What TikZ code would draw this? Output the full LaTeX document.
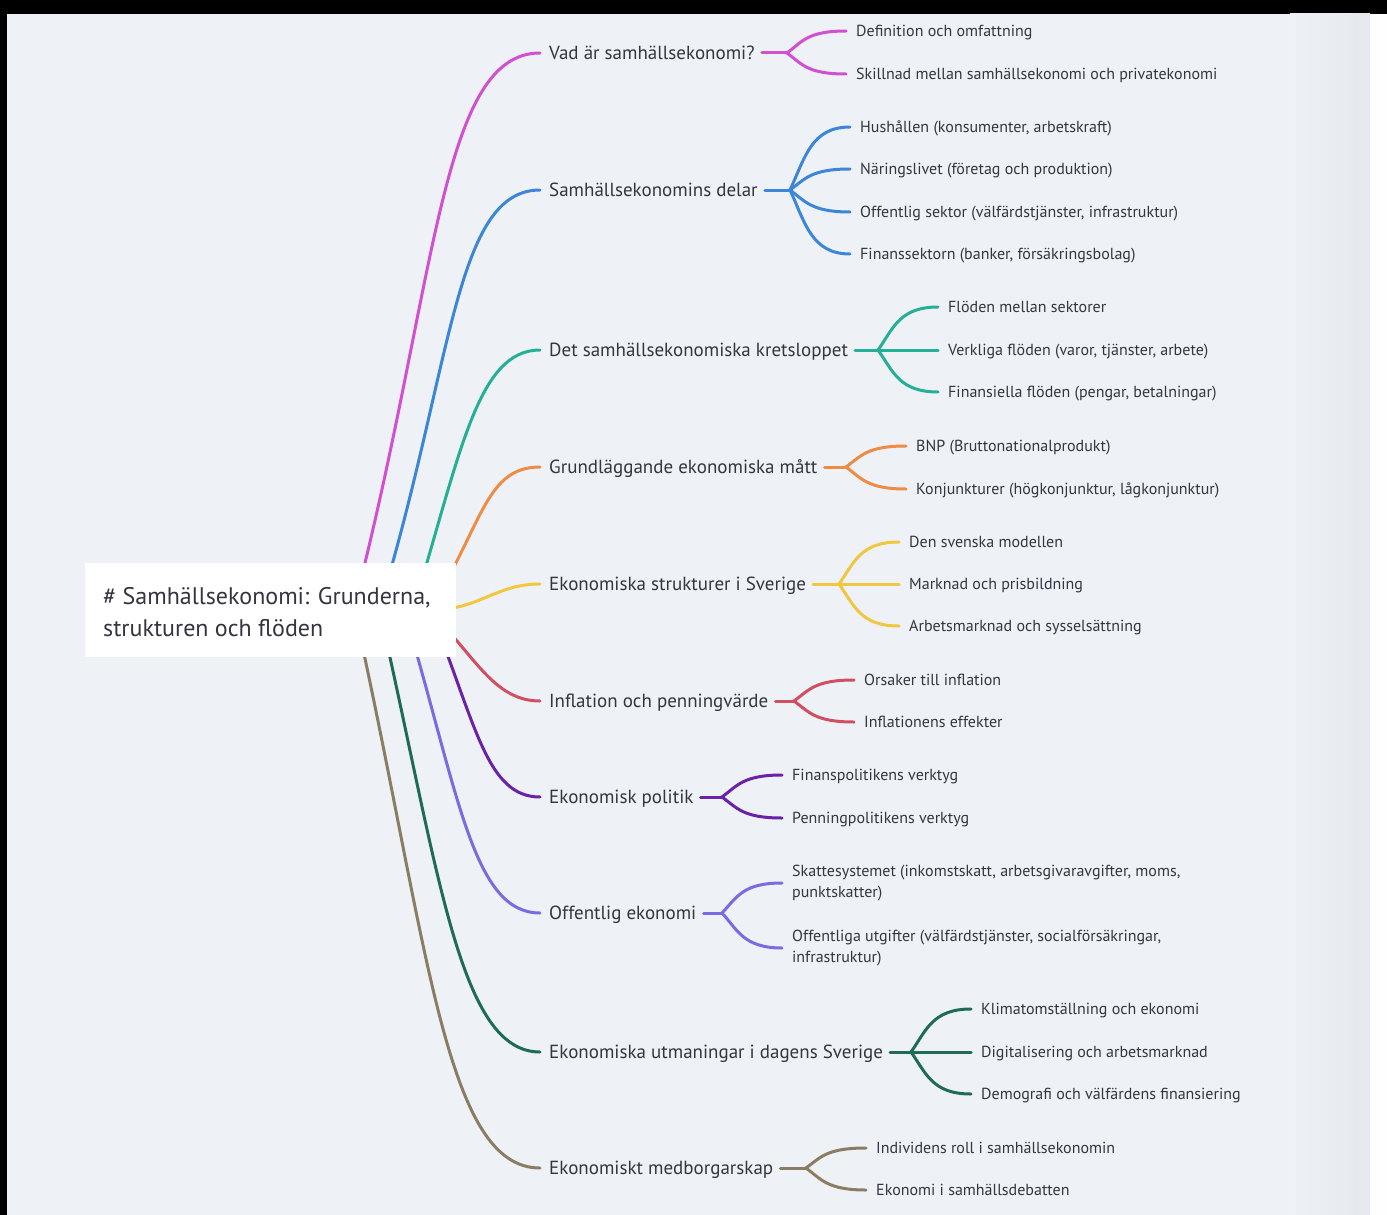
\documentclass[tikz,border=0pt]{standalone}
\usepackage{fontspec}
\setmainfont{PT Sans}
\usetikzlibrary{calc}
\definecolor{bg}{HTML}{EEF2F6}
\definecolor{txt}{HTML}{34353F}
\definecolor{cA}{HTML}{D24FD2}
\definecolor{cB}{HTML}{3C86D8}
\definecolor{cC}{HTML}{25B096}
\definecolor{cD}{HTML}{EE8B45}
\definecolor{cE}{HTML}{F2C63E}
\definecolor{cF}{HTML}{D04F60}
\definecolor{cG}{HTML}{6A22A8}
\definecolor{cH}{HTML}{7B6AE2}
\definecolor{cI}{HTML}{1F6B57}
\definecolor{cJ}{HTML}{8B7D64}
\tikzset{
  lvlone/.style={font=\fontsize{19}{22}\selectfont, text=txt, anchor=west, inner sep=0pt, text height=15pt, text depth=2pt},
  leaf/.style={font=\fontsize{16}{21}\selectfont, text=txt, anchor=west, inner sep=0pt, text height=13pt, text depth=2pt},
  leaftwo/.style={font=\fontsize{16}{21}\selectfont, text=txt, anchor=west, inner sep=0pt, align=left},
  conn/.style={line width=3pt, line cap=round},
}
\begin{document}
\begin{tikzpicture}[x=1pt,y=-1pt]
\useasboundingbox (0,0) rectangle (1387,1215);
\fill[black] (0,0) rectangle (1387,1215);
\fill[bg] (7,14) rectangle (1370,1215);
\shade[left color=bg, right color=bg!96!black] (1290,14) rectangle (1370,1215);
\fill[white!97!bg] (1370,14) rectangle (1387,1215);

% level-1 labels
\node[lvlone] (L1) at (549,53) {Vad är samhällsekonomi?};
\node[lvlone] (L2) at (549,190) {Samhällsekonomins delar};
\node[lvlone] (L3) at (549,350) {Det samhällsekonomiska kretsloppet};
\node[lvlone] (L4) at (549,467) {Grundläggande ekonomiska mått};
\node[lvlone] (L5) at (549,584) {Ekonomiska strukturer i Sverige};
\node[lvlone] (L6) at (549,701) {Inflation och penningvärde};
\node[lvlone] (L7) at (549,797) {Ekonomisk politik};
\node[lvlone] (L8) at (549,913) {Offentlig ekonomi};
\node[lvlone] (L9) at (549,1052) {Ekonomiska utmaningar i dagens Sverige};
\node[lvlone] (L10) at (549,1168) {Ekonomiskt medborgarskap};

% root hidden start points
\coordinate (s1) at (355,603);
\coordinate (s2) at (381,603);
\coordinate (s3) at (415,603);
\coordinate (s4) at (434,603);
\coordinate (s5) at (430,610);
\coordinate (s6) at (436,618);
\coordinate (s7) at (433,617);
\coordinate (s8) at (406,617);
\coordinate (s9) at (381,617);
\coordinate (s10) at (356,617);

\draw[conn,cA] (s1) .. controls +(82,-320) and +(-100,0) .. ([xshift=-9pt]L1.west);
\draw[conn,cB] (s2) .. controls +(72,-240) and +(-85,0) .. ([xshift=-9pt]L2.west);
\draw[conn,cC] (s3) .. controls +(46,-152) and +(-62,0) .. ([xshift=-9pt]L3.west);
\draw[conn,cD] (s4) .. controls +(49,-82) and +(-53,0) .. ([xshift=-9pt]L4.west);
\draw[conn,cE] (s5) .. controls +(50,0) and +(-45,0) .. ([xshift=-9pt]L5.west);
\draw[conn,cF] (s6) .. controls +(40,40) and +(-45,0) .. ([xshift=-9pt]L6.west);
\draw[conn,cG] (s7) .. controls +(43,108) and +(-53,0) .. ([xshift=-9pt]L7.west);
\draw[conn,cH] (s8) .. controls +(53,178) and +(-67,0) .. ([xshift=-9pt]L8.west);
\draw[conn,cI] (s9) .. controls +(59,261) and +(-80,0) .. ([xshift=-9pt]L9.west);
\draw[conn,cJ] (s10) .. controls +(73,331) and +(-95,0) .. ([xshift=-9pt]L10.west);

% root
\fill[white] (85,563) rectangle (456,657);
\node[font=\fontsize{24}{32}\selectfont, text=txt, anchor=north west, inner sep=0pt, align=left] (root) at (103,587)
  {\# Samhällsekonomi: Grunderna,\\strukturen och flöden};

% forks
\coordinate (f1) at (787,53);
\coordinate (f2) at (790,190);
\coordinate (f3) at (878,350);
\coordinate (f4) at (846,467);
\coordinate (f5) at (839,584);
\coordinate (f6) at (794,701);
\coordinate (f7) at (722,797);
\coordinate (f8) at (722,913);
\coordinate (f9) at (911,1052);
\coordinate (f10) at (806,1168);

\foreach \i/\c in {1/cA,2/cB,3/cC,4/cD,5/cE,6/cF,7/cG,8/cH,9/cI,10/cJ}
  \draw[conn,\c] ([xshift=7pt]L\i.east) -- (f\i);

% children
\node[leaf] (c11) at (856,31) {Definition och omfattning};
\node[leaf] (c12) at (856,74) {Skillnad mellan samhällsekonomi och privatekonomi};
\node[leaf] (c21) at (860,127) {Hushållen (konsumenter, arbetskraft)};
\node[leaf] (c22) at (860,169) {Näringslivet (företag och produktion)};
\node[leaf] (c23) at (860,212) {Offentlig sektor (välfärdstjänster, infrastruktur)};
\node[leaf] (c24) at (860,254) {Finanssektorn (banker, försäkringsbolag)};
\node[leaf] (c31) at (948,307) {Flöden mellan sektorer};
\node[leaf] (c32) at (948,350) {Verkliga flöden (varor, tjänster, arbete)};
\node[leaf] (c33) at (948,392) {Finansiella flöden (pengar, betalningar)};
\node[leaf] (c41) at (916,446) {BNP (Bruttonationalprodukt)};
\node[leaf] (c42) at (916,489) {Konjunkturer (högkonjunktur, lågkonjunktur)};
\node[leaf] (c51) at (909,542) {Den svenska modellen};
\node[leaf] (c52) at (909,584) {Marknad och prisbildning};
\node[leaf] (c53) at (909,626) {Arbetsmarknad och sysselsättning};
\node[leaf] (c61) at (864,680) {Orsaker till inflation};
\node[leaf] (c62) at (864,722) {Inflationens effekter};
\node[leaf] (c71) at (792,775) {Finanspolitikens verktyg};
\node[leaf] (c72) at (792,818) {Penningpolitikens verktyg};
\node[leaftwo] (c81) at (792,883) {Skattesystemet (inkomstskatt, arbetsgivaravgifter, moms,\\punktskatter)};
\node[leaftwo] (c82) at (792,948) {Offentliga utgifter (välfärdstjänster, socialförsäkringar,\\infrastruktur)};
\node[leaf] (c91) at (981,1009) {Klimatomställning och ekonomi};
\node[leaf] (c92) at (981,1052) {Digitalisering och arbetsmarknad};
\node[leaf] (c93) at (981,1094) {Demografi och välfärdens finansiering};
\node[leaf] (c101) at (876,1148) {Individens roll i samhällsekonomin};
\node[leaf] (c102) at (876,1190) {Ekonomi i samhällsdebatten};

% fork curves
\draw[conn,cA] (f1) .. controls +(15,-11) and +(-39,0) .. ([xshift=-10pt]c11.west);
\draw[conn,cA] (f1) .. controls +(15,11) and +(-39,0) .. ([xshift=-10pt]c12.west);
\draw[conn,cB] (f2) .. controls +(15,-32) and +(-39,0) .. ([xshift=-10pt]c21.west);
\draw[conn,cB] (f2) .. controls +(15,-11) and +(-39,0) .. ([xshift=-10pt]c22.west);
\draw[conn,cB] (f2) .. controls +(15,11) and +(-39,0) .. ([xshift=-10pt]c23.west);
\draw[conn,cB] (f2) .. controls +(15,32) and +(-39,0) .. ([xshift=-10pt]c24.west);
\draw[conn,cC] (f3) .. controls +(15,-21) and +(-39,0) .. ([xshift=-10pt]c31.west);
\draw[conn,cC] (f3) -- ([xshift=-10pt]c32.west);
\draw[conn,cC] (f3) .. controls +(15,21) and +(-39,0) .. ([xshift=-10pt]c33.west);
\draw[conn,cD] (f4) .. controls +(15,-11) and +(-39,0) .. ([xshift=-10pt]c41.west);
\draw[conn,cD] (f4) .. controls +(15,11) and +(-39,0) .. ([xshift=-10pt]c42.west);
\draw[conn,cE] (f5) .. controls +(15,-21) and +(-39,0) .. ([xshift=-10pt]c51.west);
\draw[conn,cE] (f5) -- ([xshift=-10pt]c52.west);
\draw[conn,cE] (f5) .. controls +(15,21) and +(-39,0) .. ([xshift=-10pt]c53.west);
\draw[conn,cF] (f6) .. controls +(15,-11) and +(-39,0) .. ([xshift=-10pt]c61.west);
\draw[conn,cF] (f6) .. controls +(15,11) and +(-39,0) .. ([xshift=-10pt]c62.west);
\draw[conn,cG] (f7) .. controls +(15,-11) and +(-39,0) .. ([xshift=-10pt]c71.west);
\draw[conn,cG] (f7) .. controls +(15,11) and +(-39,0) .. ([xshift=-10pt]c72.west);
\draw[conn,cH] (f8) .. controls +(15,-16) and +(-39,0) .. ([xshift=-10pt]c81.west);
\draw[conn,cH] (f8) .. controls +(15,16) and +(-39,0) .. ([xshift=-10pt]c82.west);
\draw[conn,cI] (f9) .. controls +(15,-21) and +(-39,0) .. ([xshift=-10pt]c91.west);
\draw[conn,cI] (f9) -- ([xshift=-10pt]c92.west);
\draw[conn,cI] (f9) .. controls +(15,21) and +(-39,0) .. ([xshift=-10pt]c93.west);
\draw[conn,cJ] (f10) .. controls +(15,-11) and +(-39,0) .. ([xshift=-10pt]c101.west);
\draw[conn,cJ] (f10) .. controls +(15,11) and +(-39,0) .. ([xshift=-10pt]c102.west);
\end{tikzpicture}
\end{document}
